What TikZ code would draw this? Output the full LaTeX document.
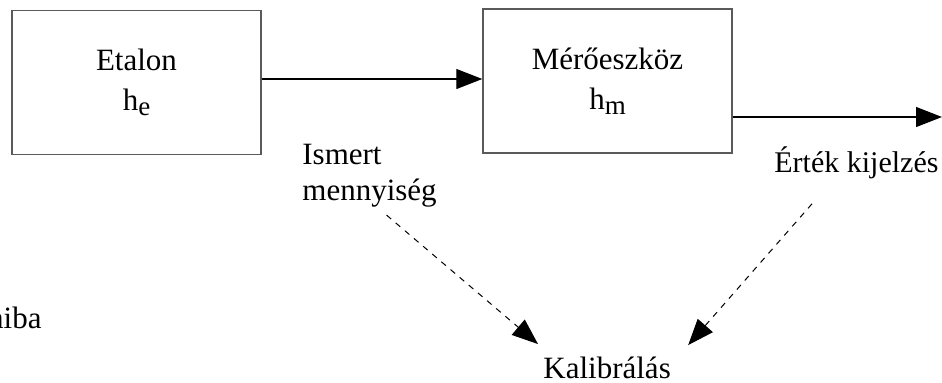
\documentclass[tikz,border=0pt]{standalone}
\usepackage{fontspec}
\setmainfont{Liberation Serif}
\usepackage{xcolor}
\usepackage{tikz}
\usetikzlibrary{calc,arrows.meta,positioning}
\definecolor{rahmen}{HTML}{5A5A5A}
\newcommand{\sub}[1]{\raisebox{-2.5pt}{\fontsize{13.5}{13.5}\selectfont #1}}
\tikzset{
  box/.style={draw=rahmen,line width=0.7pt,align=center,minimum width=124.5pt,minimum height=72pt,inner sep=0pt,font=\fontsize{15.5}{20}\selectfont},
  lbl/.style={inner sep=0pt,font=\fontsize{15.5}{18}\selectfont},
  ar/.style={-{Triangle[length=13pt,width=10pt]},line width=0.6pt},
  dar/.style={-{Triangle[length=13pt,width=10pt]},line width=0.5pt,dash pattern=on 3pt off 3pt}
}
\begin{document}
\begin{tikzpicture}[x=0.5pt,y=-0.5pt]
\useasboundingbox (0,0) rectangle (942,382);
\clip (0,0) rectangle (942,382);
\node[box] (etalon) at (136.5,82.5) {Etalon\\h\sub{e}};
\node[box] (meres) at (607.5,81) {Mérőeszköz\\h\sub{m}};
\node[lbl,anchor=base west,align=left] (ismert) at (302,200) {Ismert\\mennyiség};
\node[lbl,anchor=base west,font=\fontsize{15}{18}\selectfont] (ertek) at (774,172) {Érték kijelzés};
\node[lbl,anchor=base west] (kalib) at (543,378) {Kalibrálás};
\node[lbl,anchor=base east] (hiba) at (42,328) {hiba};
\coordinate (vege) at (942,117);
\draw[ar] ([yshift=1.75pt]etalon.east) -- ([yshift=1.75pt]etalon.east -| meres.west);
\draw[ar] (meres.east |- vege) -- (vege);
% kalibralas
\draw[dar] ([shift={(8.5pt,-4pt)}]ismert.south) -- ([shift={(-2.5pt,6pt)}]kalib.north west);
\draw[dar] ([shift={(19pt,-12.5pt)}]ertek.south west) -- ([shift={(8.5pt,5.5pt)}]kalib.north east);
\end{tikzpicture}
\end{document}
